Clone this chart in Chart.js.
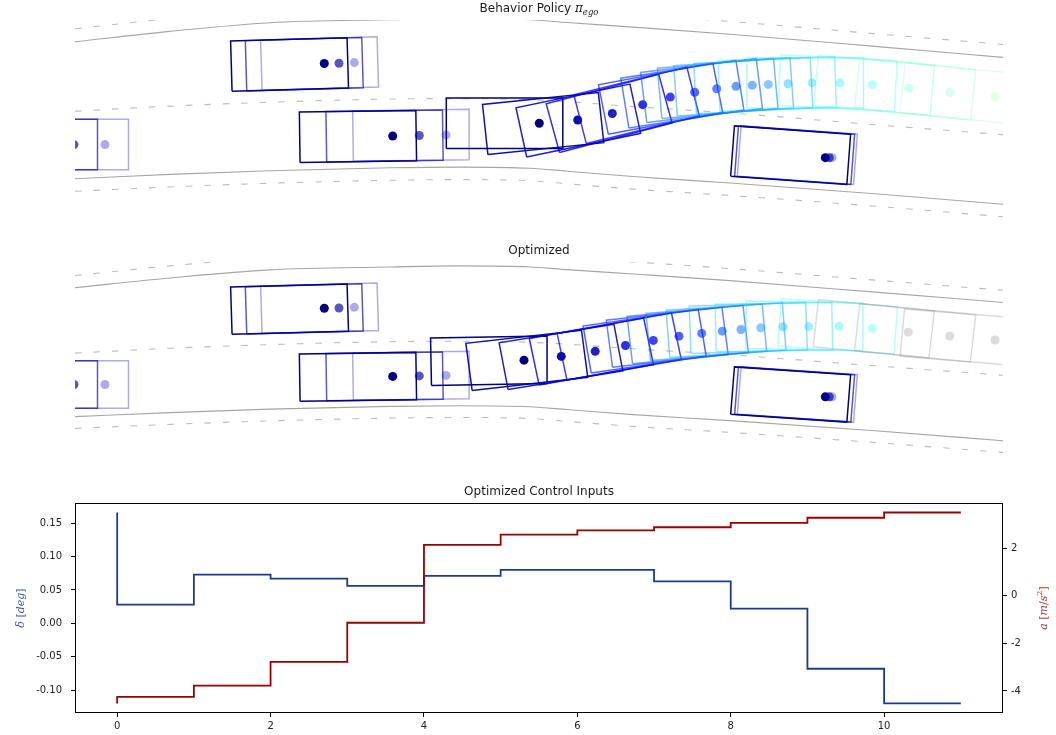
<!DOCTYPE html>
<html>
<head>
<meta charset="utf-8">
<title>Behavior policy vs optimized rollout</title>
<script src="https://cdn.jsdelivr.net/npm/chart.js@4.4.1/dist/chart.umd.min.js"></script>
<style>
  html, body { margin: 0; padding: 0; background: #fff; }
  #fig { position: relative; width: 1056px; height: 735px; }
  #fig canvas { position: absolute; left: 0; }
</style>
</head>
<body>
<div id="fig">
  <canvas id="behavior" width="1056" height="230" style="top:0"></canvas>
  <canvas id="optimized" width="1056" height="231" style="top:241px"></canvas>
  <canvas id="controls" width="1056" height="255" style="top:480px"></canvas>
</div>
<script>
// ---- road markings (stations along x, lateral y of each line) ----
const roadX         = [0, 9.5, 19.5, 31.5, 38.5, 45.5, 49.2, 55.8, 65.5, 80, 92.8];
const upperDashedY  = [20.1, 21.15, 22.03, 22.35, 22.4, 22.3, 22.03, 21.58, 20.85, 19.6, 18.5];
const upperSolidY   = [18.78, 19.84, 20.72, 21.03, 21.15, 21.03, 20.74, 20.27, 19.55, 18.3, 17.18];
const centerDashedY = [11.68, 12.2, 12.6, 12.92, 12.97, 12.85, 12.65, 12.15, 11.5, 10.3, 9.28];
const lowerSolidY   = [4.78, 5.22, 5.6, 5.9, 5.97, 5.85, 5.55, 5.0, 4.35, 3.25, 2.17];
const lowerDashedY  = [3.5, 3.94, 4.32, 4.62, 4.69, 4.57, 4.27, 3.72, 3.07, 1.97, 0.89];

// ---- surrounding vehicles, three consecutive states each ----
const carX       = [[24.93, 26.4, 27.93], [-3.2, -0.1, 3.0], [31.77, 34.43, 37.1], [75.03, 75.43, 75.7]];
const carY       = [[16.55, 16.58, 16.65], [8.27, 8.27, 8.27], [9.15, 9.2, 9.26], [6.93, 6.93, 6.93]];
const carHeading = [[1.6, 1.6, 1.6], [0, 0, 0], [0.8, 0.8, 0.8], [-4.2, -4.2, -4.2]];

// ---- ego rollout under the behavior policy ----
const behaviorX = [46.43, 50.27, 53.73, 56.77, 59.53, 61.97, 64.17, 66.1, 67.73, 69.33, 71.3, 73.7, 76.5, 79.73, 83.37, 87.47, 92.0];
const behaviorY = [10.45, 10.78, 11.45, 12.35, 13.12, 13.62, 13.97, 14.22, 14.32, 14.42, 14.48, 14.58, 14.58, 14.38, 14.02, 13.58, 13.15];
const behaviorHeading = [0, 6, 12, 15, 14, 11, 9, 7, 5, 4, 3, 2, 0, -3, -5, -6, -6];

// ---- ego rollout after optimization ----
const optimizedX = [44.9, 48.63, 52.02, 55.05, 57.83, 60.4, 62.67, 64.73, 66.6, 68.57, 70.8, 73.37, 76.4, 79.73, 83.33, 87.47, 92.0];
const optimizedY = [10.91, 11.32, 11.87, 12.51, 13.06, 13.52, 13.82, 14.06, 14.24, 14.42, 14.53, 14.56, 14.59, 14.35, 13.95, 13.53, 13.1];
const optimizedHeading = [1, 7, 10, 11, 11, 9, 7, 6, 5, 4, 2, 1, -1, -4, -6, -6, -5];

// ---- optimized control inputs ----
const steps    = [0, 1, 2, 3, 4, 5, 6, 7, 8, 9, 10, 11];
const steering = [0.166, 0.028, 0.073, 0.067, 0.056, 0.071, 0.080, 0.080, 0.063, 0.022, -0.068, -0.120];
const accel    = [-4.53, -4.25, -3.78, -2.78, -1.13, 2.15, 2.58, 2.76, 2.89, 3.07, 3.29, 3.51];
const stepTicks     = [0, 2, 4, 6, 8, 10];
const steeringTicks = [-0.10, -0.05, 0.00, 0.05, 0.10, 0.15];
const accelTicks    = [-4, -2, 0, 2];

// vehicle footprint relative to the marker point
const CAR_REAR = 9.3, CAR_FRONT = 2.35, CAR_HALF_W = 2.575;

const SANS = '"DejaVu Sans", sans-serif';
const SERIF = '"DejaVu Serif", serif';

function jet(t) {
  const c = v => Math.round(255 * Math.max(0, Math.min(1, v)));
  return [c(Math.min(4 * t - 1.5, -4 * t + 4.5)), c(Math.min(4 * t - 0.5, -4 * t + 3.5)), c(Math.min(4 * t + 0.5, -4 * t + 2.5))];
}
const rgba = (c, a) => `rgba(${c[0]},${c[1]},${c[2]},${a})`;

function outline(x, y, deg) {
  const h = deg * Math.PI / 180, cs = Math.cos(h), sn = Math.sin(h);
  const pt = (f, l) => ({ x: x + f * cs - l * sn, y: y + f * sn + l * cs });
  return [pt(-CAR_REAR, -CAR_HALF_W), pt(CAR_FRONT, -CAR_HALF_W), pt(CAR_FRONT, CAR_HALF_W),
          pt(-CAR_REAR, CAR_HALF_W), pt(-CAR_REAR, -CAR_HALF_W)];
}

function addVehicle(sets, x, y, deg, color) {
  sets.push({ data: outline(x, y, deg), showLine: true, borderColor: color, borderWidth: 1.5,
              pointRadius: 0, fill: false, tension: 0 });
  sets.push({ data: [{ x, y }], showLine: false, pointRadius: 4.5, pointBorderWidth: 0,
              pointBackgroundColor: color, backgroundColor: color, borderColor: color });
}

function addRoadLine(sets, ys, color, dash) {
  sets.push({ data: roadX.map((x, i) => ({ x, y: ys[i] })), showLine: true, borderColor: color,
              borderWidth: 1.1, borderDash: dash, pointRadius: 0, fill: false,
              cubicInterpolationMode: 'monotone' });
}

// draws a run of differently styled text pieces centered on cx
function drawRun(ctx, parts, cx, baseline, color) {
  let w = 0;
  parts.forEach(p => { ctx.font = p.font; w += ctx.measureText(p.text).width; });
  let x = cx - w / 2;
  ctx.fillStyle = color;
  ctx.textAlign = 'left';
  ctx.textBaseline = 'alphabetic';
  parts.forEach(p => {
    ctx.font = p.font;
    ctx.fillText(p.text, x, baseline + (p.dy || 0));
    x += ctx.measureText(p.text).width;
  });
}

const figText = {
  id: 'figText',
  afterDraw(chart, args, opts) {
    const { ctx, chartArea: a } = chart;
    const cy = (a.top + a.bottom) / 2;
    ctx.save();
    if (opts.frame) {
      ctx.strokeStyle = '#000';
      ctx.lineWidth = 1;
      ctx.strokeRect(a.left + 0.5, a.top + 0.5, a.right - a.left - 1, a.bottom - a.top - 1);
    }
    if (opts.title) drawRun(ctx, opts.title, (a.left + a.right) / 2, a.top - 8, '#1a1a1a');
    [opts.left, opts.right].forEach(lab => {
      if (!lab) return;
      ctx.save();
      ctx.translate(lab.x, cy);
      ctx.rotate(-Math.PI / 2);
      drawRun(ctx, lab.parts, 0, 4, lab.color);
      ctx.restore();
    });
    ctx.restore();
  }
};

function roadChart(id, egoX, egoY, egoHeading, grayFrom, yMin, yMax, padTop, title) {
  const sets = [];
  addRoadLine(sets, upperDashedY, '#bdbdbd', [6.5, 12]);
  addRoadLine(sets, upperSolidY, '#a6a6a6', []);
  addRoadLine(sets, centerDashedY, '#bdbdbd', [6.5, 12]);
  addRoadLine(sets, lowerSolidY, '#a6a6a6', []);
  addRoadLine(sets, lowerDashedY, '#bdbdbd', [6.5, 12]);

  const carAlpha = [1, 0.66, 0.33];
  carX.forEach((xs, v) => xs.forEach((x, k) =>
    addVehicle(sets, x, carY[v][k], carHeading[v][k], rgba(jet(0.03 * k), carAlpha[k]))));

  egoX.forEach((x, i) => {
    const color = i >= grayFrom ? 'rgba(128,128,128,0.28)'
      : rgba(jet(0.03 * i), (0.2 + 0.8 * Math.pow(1 - i / 16, 1.3)).toFixed(3));
    addVehicle(sets, x, egoY[i], egoHeading[i], color);
  });
  sets.forEach((s, i) => { s.order = sets.length - i; });

  return new Chart(document.getElementById(id), {
    type: 'scatter',
    data: { datasets: sets },
    options: {
      responsive: false, animation: false, devicePixelRatio: 1, events: [],
      layout: { padding: { left: 75, right: 53, top: padTop, bottom: 0 } },
      scales: {
        x: { type: 'linear', display: false, min: 0, max: 92.8 },
        y: { type: 'linear', display: false, min: yMin, max: yMax }
      },
      plugins: { legend: { display: false }, tooltip: { enabled: false }, figText: { title } }
    },
    plugins: [figText]
  });
}

roadChart('behavior', behaviorX, behaviorY, behaviorHeading, 99, 0, 21, 20, [
  { text: 'Behavior Policy ', font: `12px ${SANS}` },
  { text: 'π', font: `italic 12px ${SERIF}` },
  { text: 'ego', font: `italic 8.5px ${SERIF}`, dy: 2.5 }
]);

roadChart('optimized', optimizedX, optimizedY, optimizedHeading, 14, -0.74, 21.57, 21, [
  { text: 'Optimized', font: `12px ${SANS}` }
]);

// ---- control inputs (steps-pre style) ----
const tickFont = { family: 'DejaVu Sans', size: 10 };
const axisGrid = { display: true, drawOnChartArea: false, drawTicks: true, tickLength: 4, color: '#000', lineWidth: 1 };

new Chart(document.getElementById('controls'), {
  type: 'line',
  data: {
    datasets: [
      { data: steps.map((s, i) => ({ x: s, y: accel[i] })), yAxisID: 'yAccel', order: 0,
        borderColor: '#990000', borderWidth: 1.8, stepped: 'after', pointRadius: 0, fill: false },
      { data: steps.map((s, i) => ({ x: s, y: steering[i] })), yAxisID: 'ySteer', order: 1,
        borderColor: '#1c3a92', borderWidth: 1.8, stepped: 'after', pointRadius: 0, fill: false }
    ]
  },
  options: {
    responsive: false, animation: false, devicePixelRatio: 1, events: [],
    layout: { padding: { left: 0, right: 0, top: 23, bottom: 0 } },
    scales: {
      x: {
        type: 'linear', min: -0.55, max: 11.55,
        afterBuildTicks: s => { s.ticks = stepTicks.map(v => ({ value: v })); },
        afterFit: s => { s.height = 22; },
        grid: axisGrid, border: { display: false },
        ticks: { font: tickFont, color: '#222', padding: 3, maxRotation: 0, autoSkip: false }
      },
      ySteer: {
        type: 'linear', position: 'left', min: -0.1343, max: 0.1803,
        afterBuildTicks: s => { s.ticks = steeringTicks.map(v => ({ value: v })); },
        afterFit: s => { s.width = 75; },
        grid: axisGrid, border: { display: false },
        ticks: { font: tickFont, color: '#222', padding: 9, autoSkip: false, callback: v => v.toFixed(2) }
      },
      yAccel: {
        type: 'linear', position: 'right', min: -4.93, max: 3.91,
        afterBuildTicks: s => { s.ticks = accelTicks.map(v => ({ value: v })); },
        afterFit: s => { s.width = 53; },
        grid: axisGrid, border: { display: false },
        ticks: { font: tickFont, color: '#222', padding: 4, autoSkip: false, callback: v => String(v) }
      }
    },
    plugins: {
      legend: { display: false }, tooltip: { enabled: false },
      figText: {
        frame: true,
        title: [{ text: 'Optimized Control Inputs', font: `12px ${SANS}` }],
        left: { x: 20, color: '#3552ad', parts: [
          { text: 'δ', font: `italic 11px ${SERIF}` },
          { text: ' [', font: `11px ${SERIF}` },
          { text: 'deg', font: `italic 11px ${SERIF}` },
          { text: ']', font: `11px ${SERIF}` }
        ] },
        right: { x: 1043, color: '#b03434', parts: [
          { text: 'a', font: `italic 11px ${SERIF}` },
          { text: ' [', font: `11px ${SERIF}` },
          { text: 'm', font: `italic 11px ${SERIF}` },
          { text: '/', font: `11px ${SERIF}` },
          { text: 's', font: `italic 11px ${SERIF}` },
          { text: '2', font: `8px ${SERIF}`, dy: -5 },
          { text: ']', font: `11px ${SERIF}` }
        ] }
      }
    }
  },
  plugins: [figText]
});
</script>
</body>
</html>
